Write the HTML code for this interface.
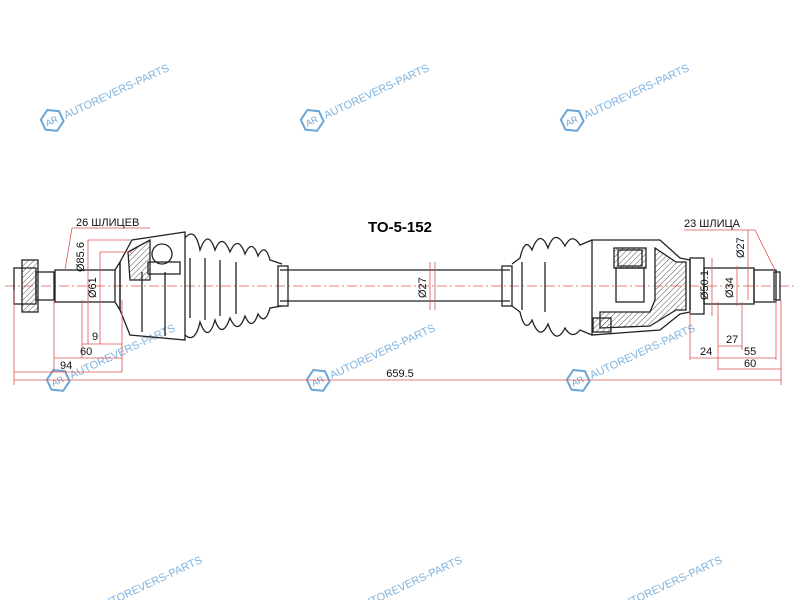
<!DOCTYPE html>
<html><head><meta charset="utf-8"><style>
html,body{margin:0;padding:0;background:#fff;}
svg{display:block;font-family:"Liberation Sans",sans-serif;}
.wm{fill:#6aa6d8;font-size:11px;opacity:.85}
</style></head><body>
<svg width="800" height="600" viewBox="0 0 800 600" xmlns="http://www.w3.org/2000/svg">
<defs>
<pattern id="h" width="4" height="4" patternUnits="userSpaceOnUse" patternTransform="rotate(45)"><line x1="0" y1="0" x2="0" y2="4" stroke="#555" stroke-width="1"/></pattern>
<g id="logo"><polygon points="0,-11 10,-5 10,6 0,12 -10,6 -10,-5" fill="none" stroke="#6aa6d8" stroke-width="2"/><text x="-7" y="4" font-size="9" fill="#6aa6d8">AR</text></g>
</defs>
<g transform="translate(52,120) rotate(-25)"><use href="#logo"/><text class="wm" x="13" y="5">AUTOREVERS-PARTS</text></g>
<g transform="translate(312,120) rotate(-25)"><use href="#logo"/><text class="wm" x="13" y="5">AUTOREVERS-PARTS</text></g>
<g transform="translate(572,120) rotate(-25)"><use href="#logo"/><text class="wm" x="13" y="5">AUTOREVERS-PARTS</text></g>
<g transform="translate(58,380) rotate(-25)"><use href="#logo"/><text class="wm" x="13" y="5">AUTOREVERS-PARTS</text></g>
<g transform="translate(318,380) rotate(-25)"><use href="#logo"/><text class="wm" x="13" y="5">AUTOREVERS-PARTS</text></g>
<g transform="translate(578,380) rotate(-25)"><use href="#logo"/><text class="wm" x="13" y="5">AUTOREVERS-PARTS</text></g>
<g transform="translate(85,612) rotate(-25)"><text class="wm" x="13" y="5">AUTOREVERS-PARTS</text></g>
<g transform="translate(345,612) rotate(-25)"><text class="wm" x="13" y="5">AUTOREVERS-PARTS</text></g>
<g transform="translate(605,612) rotate(-25)"><text class="wm" x="13" y="5">AUTOREVERS-PARTS</text></g>

<text x="400" y="232" font-size="15" font-weight="bold" text-anchor="middle">TO-5-152</text>

<line x1="5" y1="286" x2="795" y2="286" stroke="#d55" stroke-width="0.8" stroke-dasharray="10,3,2,3"/>

<g fill="none" stroke="#222" stroke-width="1.3">
<line x1="280" y1="270" x2="510" y2="270"/><line x1="280" y1="301" x2="510" y2="301"/>
<rect x="278" y="266" width="10" height="40"/><rect x="502" y="266" width="10" height="40"/>
<rect x="14" y="268" width="22" height="36"/>
<rect x="22" y="260" width="16" height="52" fill="url(#h)"/>
<rect x="36" y="272" width="18" height="28"/>
<rect x="55" y="270" width="60" height="32"/>
<path d="M115,270 L120,262 L120,310 L115,302"/>
<path d="M120,262 L132,240 L185,232 L185,340 L130,335 L120,310Z"/>
<path d="M128,252 L150,240 L150,280 L130,280Z" fill="url(#h)"/>
<circle cx="162" cy="254" r="10"/><rect x="148" y="262" width="32" height="12"/>
<line x1="142" y1="272" x2="142" y2="332"/><line x1="165" y1="272" x2="165" y2="336"/>
<path d="M185,238 Q195,226 200,250 Q208,228 215,250 Q222,232 230,252 Q238,234 245,254 Q252,238 258,256 Q265,242 270,260 L282,264"/>
<path d="M185,335 Q195,344 200,322 Q208,344 215,320 Q222,340 230,318 Q238,336 245,316 Q252,332 258,314 Q265,326 270,308 L282,306"/>
<line x1="190" y1="258" x2="190" y2="318"/><line x1="205" y1="258" x2="205" y2="320"/><line x1="220" y1="260" x2="220" y2="316"/><line x1="236" y1="262" x2="236" y2="314"/>
<path d="M512,264 L520,258 Q525,236 532,250 Q540,228 548,248 Q555,228 565,246 Q572,232 580,245 L592,240"/>
<path d="M512,306 L520,312 Q525,334 532,320 Q540,342 548,324 Q556,346 565,328 Q572,340 580,330 L592,335"/>
<line x1="522" y1="262" x2="522" y2="310"/><line x1="545" y1="262" x2="545" y2="312"/>
<path d="M592,240 L660,240 L680,258 L690,260 L690,312 L680,314 L660,330 L592,335Z"/>
<path d="M655,248 L676,262 L686,262 L686,310 L676,310 L650,326 L600,328 L600,312 L650,312 L655,300Z" fill="url(#h)"/>
<rect x="614" y="248" width="32" height="20" fill="url(#h)"/>
<rect x="618" y="250" width="24" height="16"/>
<rect x="616" y="268" width="28" height="34"/>
<rect x="593" y="318" width="18" height="14" fill="url(#h)"/>
<rect x="690" y="258" width="14" height="56"/>
<rect x="704" y="268" width="50" height="36"/>
<rect x="754" y="270" width="22" height="32"/>
<rect x="774" y="272" width="6" height="28"/>
</g>

<g stroke="#d55" stroke-width="0.8" fill="none">
<line x1="14" y1="290" x2="14" y2="385"/><line x1="54" y1="300" x2="54" y2="372"/><line x1="82" y1="300" x2="82" y2="358"/>
<line x1="88" y1="240" x2="88" y2="344"/><line x1="100" y1="252" x2="100" y2="344"/><line x1="122" y1="300" x2="122" y2="372"/>
<line x1="82" y1="344" x2="122" y2="344"/><line x1="54" y1="358" x2="122" y2="358"/><line x1="14" y1="372" x2="122" y2="372"/>
<line x1="14" y1="380" x2="781" y2="380"/>
<line x1="88" y1="240" x2="132" y2="240"/><line x1="100" y1="252" x2="132" y2="252"/>
<line x1="72" y1="228" x2="150" y2="228"/><line x1="72" y1="228" x2="65" y2="270"/>
<line x1="430" y1="262" x2="430" y2="310"/><line x1="435" y1="262" x2="435" y2="310"/>
<line x1="690" y1="310" x2="690" y2="360"/><line x1="718" y1="302" x2="718" y2="370"/><line x1="742" y1="302" x2="742" y2="350"/>
<line x1="781" y1="300" x2="781" y2="385"/><line x1="776" y1="300" x2="776" y2="360"/>
<line x1="712" y1="258" x2="712" y2="316"/><line x1="737" y1="266" x2="737" y2="306"/><line x1="748" y1="230" x2="748" y2="300"/>
<line x1="690" y1="358" x2="718" y2="358"/><line x1="718" y1="346" x2="742" y2="346"/><line x1="718" y1="358" x2="776" y2="358"/><line x1="718" y1="369" x2="781" y2="369"/>
<line x1="684" y1="230" x2="755" y2="230"/><line x1="755" y1="230" x2="775" y2="270"/>
</g>
<g font-size="11" fill="#111">
<text x="76" y="226">26 ШЛИЦЕВ</text>
<text x="684" y="227">23 ШЛИЦА</text>
<text x="92" y="340">9</text><text x="80" y="355">60</text><text x="60" y="369">94</text>
<text x="400" y="377" text-anchor="middle">659.5</text>
<text x="700" y="355">24</text><text x="726" y="343">27</text><text x="744" y="355">55</text><text x="744" y="367">60</text>
<text transform="translate(84,272) rotate(-90)">Ø85.6</text>
<text transform="translate(96,298) rotate(-90)">Ø61</text>
<text transform="translate(426,298) rotate(-90)">Ø27</text>
<text transform="translate(708,300) rotate(-90)">Ø50.1</text>
<text transform="translate(733,298) rotate(-90)">Ø34</text>
<text transform="translate(744,258) rotate(-90)">Ø27</text>
</g>
</svg>
</body></html>
